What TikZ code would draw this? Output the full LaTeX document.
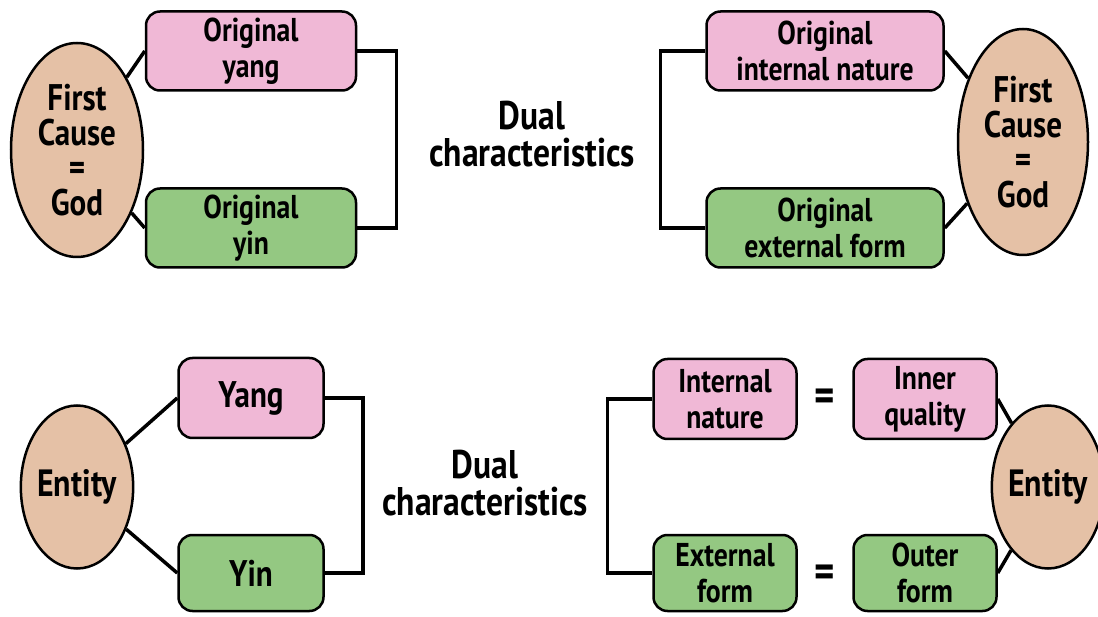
\documentclass[tikz,border=0pt]{standalone}
\usepackage{fontspec}
\setmainfont{PT Sans}[FakeStretch=0.84]
\usetikzlibrary{shapes.geometric}
\definecolor{yangpink}{RGB}{240,184,214}
\definecolor{yingreen}{RGB}{148,200,130}
\definecolor{godtan}{RGB}{229,193,166}
\begin{document}
\begin{tikzpicture}[x=1pt,y=-1pt,
  box/.style={draw,line width=2.5pt,rounded corners=14pt,inner sep=0pt,align=center,
    font=\fontsize{33}{36}\selectfont\bfseries},
  yangbox/.style={box,fill=yangpink},
  yinbox/.style={box,fill=yingreen},
  cause/.style={ellipse,draw,line width=2.5pt,fill=godtan,inner sep=0pt,align=center,
    font=\fontsize{37}{35}\selectfont\bfseries},
  dual/.style={align=center,font=\fontsize{40}{37}\selectfont\bfseries},
  equal/.style={font=\fontsize{46}{36}\selectfont\bfseries},
  link/.style={line width=3.5pt}]
\useasboundingbox (0,0) rectangle (1098,617);
% top row
\node[cause,minimum width=132,minimum height=214] (god1) at (77,150) {First\\Cause\\=\\God};
\node[yangbox,minimum width=210,minimum height=79] (yang1) at (251,51) {Original\\yang};
\node[yinbox,minimum width=210,minimum height=79] (yin1) at (251,228) {Original\\yin};
\node[dual] (dual1) at (532,134) {Dual\\characteristics};
\node[yangbox,minimum width=237,minimum height=79] (inner1) at (825,51) {Original\\internal nature};
\node[yinbox,minimum width=237,minimum height=79] (outer1) at (825,228) {Original\\external form};
\node[cause,minimum width=130,minimum height=226] (god2) at (1023,142) {First\\Cause\\=\\God};
\draw[link] (god1) -- (yang1.west);
\draw[link] (god1) -- (yin1.west);
\draw[link] (yang1.east) -- ++(39,0) |- (yin1.east); % bracket
\draw[link] (inner1.west) -- ++(-45,0) |- (outer1.west);
\draw[link] (god2) -- (inner1.east);
\draw[link] (god2) -- (outer1.east);
% bottom row
\node[cause,minimum width=108,minimum height=163,font=\fontsize{38}{36}\selectfont\bfseries] (entity1) at (77,487) {Entity};
\node[yangbox,minimum width=145,minimum height=80,font=\fontsize{37}{36}\selectfont\bfseries] (yang2) at (251,398) {Yang};
\node[yinbox,minimum width=145,minimum height=76,font=\fontsize{37}{36}\selectfont\bfseries] (yin2) at (251,573) {Yin};
\node[dual] (dual2) at (485,483) {Dual\\characteristics};
\node[yangbox,minimum width=143,minimum height=80] (nature2) at (725,399) {Internal\\nature};
\node[yinbox,minimum width=143,minimum height=76] (form2) at (725,573) {External\\form};
\node[yangbox,minimum width=143,minimum height=80] (quality2) at (925,399) {Inner\\quality};
\node[yinbox,minimum width=143,minimum height=76] (outer2) at (925,573) {Outer\\form};
\node[equal] (eqa) at (825,400) {=};
\node[equal] (eqb) at (825,576) {=};
\node[cause,minimum width=108,minimum height=163,font=\fontsize{38}{36}\selectfont\bfseries] (entity2) at (1048,487) {Entity};
\draw[link] (entity1) -- (yang2.west);
\draw[link] (entity1) -- (yin2.west);
\draw[link] (yang2.east) -- ++(38,0) |- (yin2.east); % bracket
\draw[link] (nature2.west) -- ++(-45,0) |- (form2.west);
\draw[link] (entity2) -- (quality2.east);
\draw[link] (entity2) -- (outer2.east);
\end{tikzpicture}
\end{document}
